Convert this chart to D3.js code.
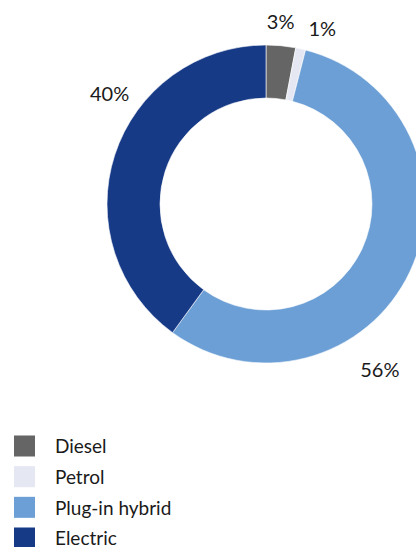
<!DOCTYPE html>
<html>
<head>
<meta charset="utf-8">
<script src="https://cdn.jsdelivr.net/npm/d3@7"></script>
<style>
  body { margin: 0; background: #fff; }
  svg { display: block; font-family: Lato, "Noto Sans", sans-serif; }
</style>
</head>
<body>
<svg width="416" height="547"></svg>
<script>
// chart data
var categories = ['Diesel', 'Petrol', 'Plug-in hybrid', 'Electric'];
var shares = [3, 1, 56, 40];
var colours = ['#656565', '#e5e8f2', '#6c9fd5', '#173a87'];

var svg = d3.select('svg');

// ring geometry
var cx = 266, cy = 204,
    outerR = 159, innerR = 106;

var pie = d3.pie()
    .sort(null)
    .value(function(d) { return d; });

var arc = d3.arc()
    .innerRadius(innerR)
    .outerRadius(outerR);

var arcs = pie(shares);

var g = svg.append('g')
    .attr('transform', 'translate(' + cx + ',' + cy + ')');

g.selectAll('path')
    .data(arcs)
    .enter().append('path')
    .attr('d', arc)
    .attr('fill', function(d, i) { return colours[i]; })
    .attr('stroke', '#fff')
    .attr('stroke-width', 0.6);

// labels sit outside the ring; angle/radius picked to match the original layout
var labelPlace = [
    { a: 4.6, r: 183 },
    { a: 17.8, r: 184 },
    { a: 145.5, r: 201 },
    { a: 305, r: 191 }
];

g.selectAll('text.lbl')
    .data(arcs)
    .enter().append('text')
    .attr('class', 'lbl')
    .attr('x', function(d, i) {
        var a = labelPlace[i].a * Math.PI / 180;
        return Math.sin(a) * labelPlace[i].r;
    })
    .attr('y', function(d, i) {
        var a = labelPlace[i].a * Math.PI / 180;
        return -Math.cos(a) * labelPlace[i].r;
    })
    .attr('dy', '0.35em')
    .attr('text-anchor', 'middle')
    .style('font-size', '20px')
    .style('fill', '#1a1a1a')
    .text(function(d) { return d.data + '%'; });

// legend
var legendY = d3.scalePoint()
    .domain(categories)
    .range([446, 538]);

var legend = svg.append('g')
    .selectAll('g')
    .data(categories)
    .enter().append('g')
    .attr('transform', function(d) { return 'translate(14,' + legendY(d) + ')'; });

legend.append('rect')
    .attr('x', 0)
    .attr('y', -10.5)
    .attr('width', 21)
    .attr('height', 21)
    .attr('fill', function(d, i) { return colours[i]; });

legend.append('text')
    .attr('x', 41)
    .attr('y', 0)
    .attr('dy', '0.38em')
    .style('font-size', '19px')
    .style('fill', '#1a1a1a')
    .text(function(d) { return d; });
</script>
</body>
</html>
